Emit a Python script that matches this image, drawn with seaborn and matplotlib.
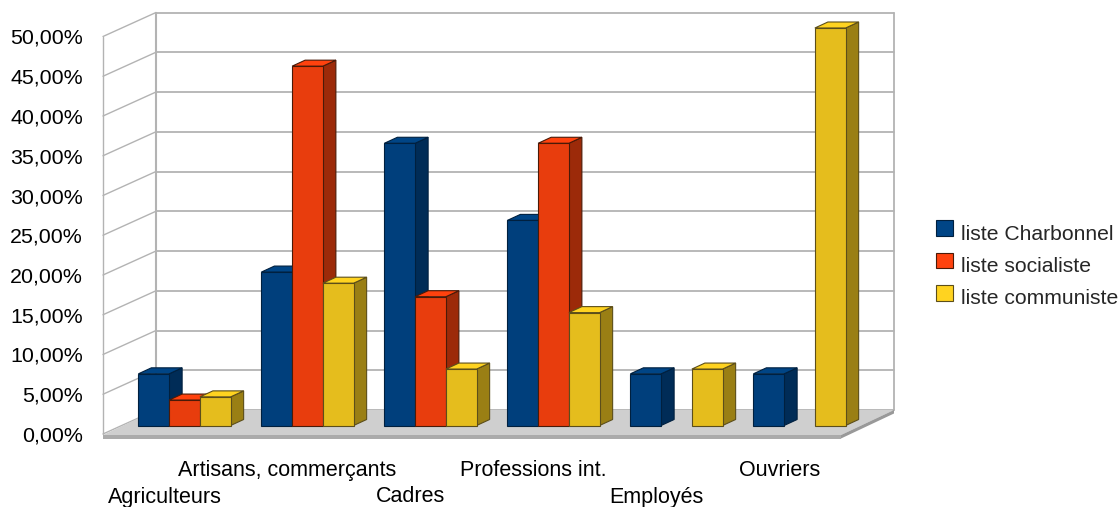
import numpy as np
import pandas as pd
import matplotlib
matplotlib.use("Agg")
import matplotlib.pyplot as plt
from matplotlib.patches import Polygon, Patch, Rectangle
from matplotlib.legend_handler import HandlerPatch
from matplotlib.transforms import ScaledTranslation
import seaborn as sns

categories = ["Agriculteurs", "Artisans, commerçants", "Cadres",
              "Professions int.", "Employés", "Ouvriers"]
series_names = ["liste Charbonnel", "liste socialiste", "liste communiste"]
charbonnel = [6.5, 19.3, 35.5, 25.8, 6.5, 6.5]
socialiste = [3.2, 45.2, 16.2, 35.5, np.nan, np.nan]
communiste = [3.6, 17.9, 7.1, 14.2, 7.1, 50.0]
y_ticks = [0, 5, 10, 15, 20, 25, 30, 35, 40, 45, 50]
y_labels = [f"{v},00%" for v in y_ticks]

front = ["#003f7c", "#e83d0d", "#e5bd1d"]
top_c = ["#004586", "#ff420e", "#ffd320"]
side = ["#002c57", "#9c2a09", "#9a7f14"]
edge = ["#00203f", "#4a1a08", "#5c4e1a"]
grid_c = "#b3b3b3"

W, H, DPI = 1119, 507, 100
sns.set_style("white")
plt.rcParams["font.family"] = ["Liberation Sans", "DejaVu Sans"]
FS = 15.4

fig = plt.figure(figsize=(W / DPI, H / DPI), dpi=DPI, facecolor="white")
# front plane of the box: x 103..841 px, y 434..36.5 px
ax = fig.add_axes([103 / W, 1 - 434 / H, 738 / W, (434 - 36.5) / H])

df = pd.DataFrame({"categorie": categories, series_names[0]: charbonnel,
                   series_names[1]: socialiste, series_names[2]: communiste})
long = df.melt(id_vars="categorie", var_name="serie", value_name="valeur")
sns.barplot(data=long, x="categorie", y="valeur", hue="serie", order=categories,
            hue_order=series_names, palette=front, saturation=1, width=0.75,
            gap=0, legend=False, errorbar=None, ax=ax)

ax.set_xlim(-0.5, 5.5)
ax.set_ylim(0, 50)
ax.set_xlabel("")
ax.set_ylabel("")
sns.despine(ax=ax, left=True, bottom=True, right=True, top=True)
ax.patch.set_visible(False)

PX = 123.0              # px per category
PY = (434 - 36.5) / 50  # px per percent


def box_x(px):
    return px / PX


def box_y(px):
    return px / PY


def add_poly(pts, fc, ec="none", lw=0.0, z=1, tr=None):
    p = Polygon(pts, closed=True, facecolor=fc, edgecolor=ec, linewidth=lw,
                zorder=z, clip_on=False, transform=tr if tr is not None else ax.transData)
    ax.add_patch(p)


# box: depth vector of the chart
DX, DY = box_x(53), box_y(24)
L, R = -0.5, 5.5

# floor
add_poly([(L, -box_y(1)), (R, -box_y(1)), (R + DX, DY), (L + DX, DY)], "#cfcfcf", z=1)
t = box_y(4.5)
add_poly([(L, -box_y(1)), (R, -box_y(1)), (R, -t), (L, -t)], "#ababab", z=1.1)
add_poly([(R, -box_y(1)), (R + DX, DY), (R + DX, DY - box_y(3.5)), (R, -t)], "#999999", z=1.1)

# walls and grid
for v in y_ticks:
    ax.plot([L, L + DX], [v, v + DY], color=grid_c, lw=1.0, zorder=0.5, clip_on=False)
    ax.plot([L + DX, R + DX], [v + DY, v + DY], color=grid_c, lw=1.3, zorder=0.5, clip_on=False)
ax.plot([L, L], [0, 50], color=grid_c, lw=1.0, zorder=0.5, clip_on=False)
ax.plot([L + DX, L + DX], [DY, 50 + DY], color=grid_c, lw=1.5, zorder=0.5, clip_on=False)
ax.plot([R + DX, R + DX], [DY, 50 + DY], color=grid_c, lw=1.3, zorder=0.5, clip_on=False)

# 3D faces of the bars, on a plane set back inside the box
shift = ax.transData + ScaledTranslation(20 / DPI, 8.5 / DPI, fig.dpi_scale_trans)
ddx, ddy = box_x(13), box_y(6)
front_rgb = [matplotlib.colors.to_rgb(c) for c in front]
rects = [b for b in ax.patches if isinstance(b, Rectangle)]
bars = []
for b in rects:
    if np.isfinite(b.get_height()) and b.get_height() > 0:
        bars.append(b)
    else:
        b.set_visible(False)
bars.sort(key=lambda b: b.get_x())
for k, b in enumerate(bars):
    x0, x1, h = b.get_x(), b.get_x() + b.get_width(), b.get_height()
    s = front_rgb.index(tuple(b.get_facecolor()[:3]))
    z = 3 + k
    add_poly([(x1, 0), (x1 + ddx, ddy), (x1 + ddx, h + ddy), (x1, h)], side[s], edge[s], 0.8, z, shift)
    add_poly([(x0, h), (x1, h), (x1 + ddx, h + ddy), (x0 + ddx, h + ddy)], top_c[s], edge[s], 0.8, z, shift)
    b.set_transform(shift)
    b.set_clip_on(False)
    b.set_edgecolor(edge[s])
    b.set_linewidth(0.8)
    b.set_zorder(z + 0.5)

# ticks
ax.set_yticks(y_ticks, y_labels)
ax.set_xticks(range(len(categories)), categories)
ax.tick_params(axis="both", length=0, labelsize=FS, labelcolor="black")
ax.tick_params(axis="y", pad=14.5)
for i, tk in enumerate(ax.xaxis.get_major_ticks()):
    tk.set_pad(37.8 if i % 2 == 0 else 18.8)
    tk.label1.set_fontsize(15.5)


# legend: swatches sit a little above the text, as in the source chart
def raised_swatch(legend, orig_handle, xdescent, ydescent, width, height, fontsize):
    return Rectangle((-xdescent, -ydescent + 3.0), width, height)


handles = [Patch(facecolor=top_c[i], edgecolor=edge[i], linewidth=0.8, label=series_names[i])
           for i in range(3)]
fig.legend(handles=handles, loc="upper left", bbox_to_anchor=(936 / W, 1 - 224.5 / H),
           frameon=False, fontsize=15.25, borderpad=0, borderaxespad=0,
           handlelength=0.79, handleheight=0.74, handletextpad=0.37, labelspacing=0.63,
           handler_map={Patch: HandlerPatch(patch_func=raised_swatch)})

fig.savefig("out.png", dpi=DPI, facecolor="white")
